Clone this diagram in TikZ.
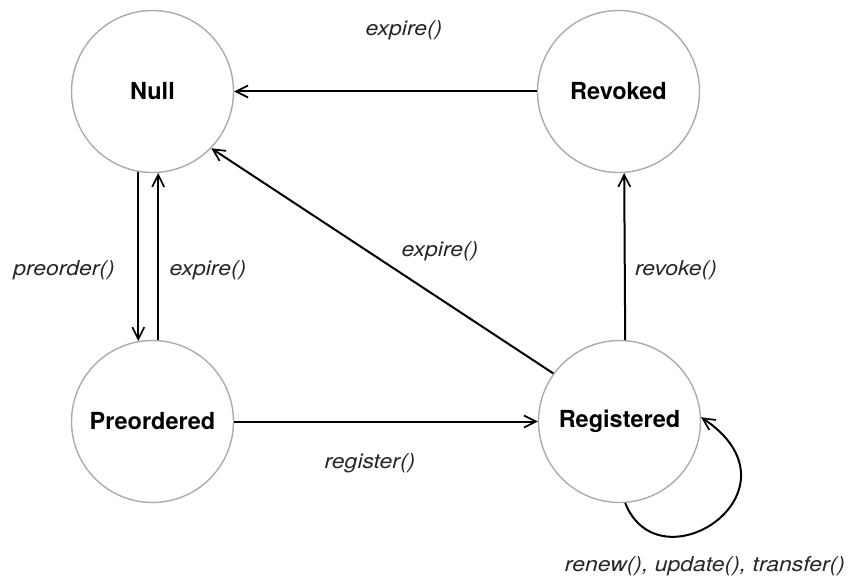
\documentclass[tikz,border=0pt]{standalone}
\usepackage{fontspec}
\setmainfont{TeX Gyre Heros}
\newfontfamily\labelfont[FakeStretch=1.12]{TeX Gyre Heros}
\usetikzlibrary{arrows.meta}
\begin{document}
\begin{tikzpicture}[x=1pt,y=-1pt,
  state/.style={circle,draw=black!33,line width=1.4pt,minimum size=162pt,inner sep=0pt,
    font=\fontsize{23.5}{27}\selectfont\bfseries},
  trans/.style={line width=2pt,-{Straight Barb[length=12pt,width=12pt,line width=1.7pt]}},
  lbl/.style={font=\labelfont\fontsize{20.5}{24}\selectfont\itshape,text=black!85,inner sep=0pt}]
\useasboundingbox (0,0) rectangle (857,586);

% states
\node[state] (null) at (152.5,91.5) {Null};
\node[state] (rev)  at (618.5,91.5) {Revoked};
\node[state] (pre)  at (152.5,421.5) {Preordered};
\node[state] (reg)  at (619.5,421.5) {Registered};

% transitions
\draw[trans] (rev.west) -- (null.east);
\draw[trans] (null.260) -- (pre.100);
\draw[trans] (pre.86) -- (null.274);
\draw[trans] (pre.east) -- (reg.west);
\draw[trans] (reg.86) -- (rev.274);
\draw[trans] (reg.144) -- (null.316);
\draw[trans] (reg.274) .. controls (660,590) and (810,490) .. (reg.3);

% transition labels
\node[lbl] (l1) at (404,30)  {expire()};
\node[lbl] (l2) at (64,270)  {preorder()};
\node[lbl] (l3) at (208,270) {expire()};
\node[lbl] (l4) at (440,251) {expire()};
\node[lbl] (l5) at (676,270) {revoke()};
\node[lbl] (l6) at (370,463) {register()};
\node[lbl] (l7) at (705,566) {renew(), update(), transfer()};
\end{tikzpicture}
\end{document}
